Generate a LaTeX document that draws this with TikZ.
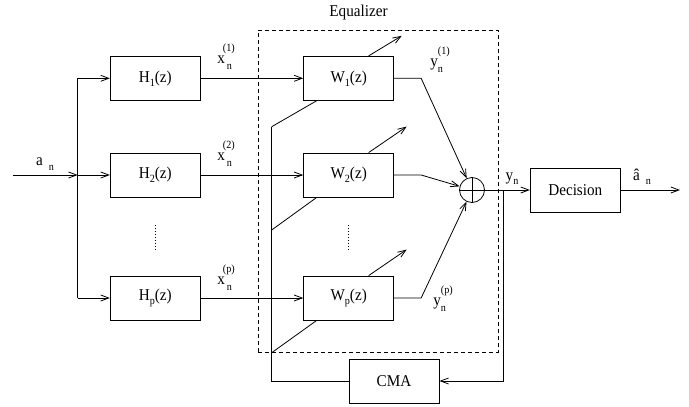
\documentclass[tikz,border=0pt]{standalone}
\usepackage{fontspec}
\setmainfont{Liberation Serif}[FakeStretch=0.92]
\usetikzlibrary{arrows.meta,calc}
\newcommand{\mainf}{\fontsize{16.5}{18}\selectfont}
\newcommand{\sml}{\fontsize{11}{11}\selectfont}
% main letter, subscript, superscript, subscript shift, superscript shift
\newcommand{\mysig}[5]{#1\makebox[0pt][l]{\hspace{#4}\raisebox{-6pt}{\sml #2}}\hspace{#5}\raisebox{12pt}{\sml #3}}
\newcommand{\fsub}[2]{#1\raisebox{-4pt}{\sml #2}(z)}
\begin{document}
\begin{tikzpicture}[x=1pt,y=-1pt,line width=0.8pt,
  box/.style={draw,line width=0.9pt,minimum width=90pt,minimum height=44pt,inner sep=0pt,font=\mainf},
  arr/.style={-{Straight Barb[length=8pt,width=6pt]}},
  lbl/.style={inner sep=0pt,font=\mainf},
  dots/.style={dash pattern=on 1pt off 2pt,line width=0.9pt}]
\useasboundingbox (0,0) rectangle (689,407);
% equalizer frame
\node[draw,dash pattern=on 4pt off 3pt,line width=0.7pt,minimum width=239.7pt,minimum height=322.7pt,inner sep=0pt] (eq) at (378.15,191.35) {};
\node[lbl] (eqlbl) at (358.5,13) {Equalizer};
% boxes
\node[box] (H1) at (155.3,78.3) {\fsub{H}{1}};
\node[box] (H2) at (155.3,175) {\fsub{H}{2}};
\node[box] (Hp) at (155.3,298) {\fsub{H}{p}};
\node[box] (W1) at (348.7,78.3) {\fsub{W}{1}};
\node[box] (W2) at (348.7,175) {\fsub{W}{2}};
\node[box] (Wp) at (348.7,298) {\fsub{W}{p}};
\node[circle,draw,minimum size=25pt,inner sep=0pt] (sum) at (472,190) {};
\node[box] (dec) at (575.3,190) {Decision};
\node[box] (cma) at (394,381) {CMA};
% coordinates
\coordinate (in) at (13,175);
\coordinate (sp) at (77.7,175);
\coordinate (spt) at (77.7,78.3);
\coordinate (spb) at (77.7,298);
\coordinate (c1) at (271.7,126.7);
\coordinate (c2) at (271.7,230);
\coordinate (cp) at (271.7,352.7);
\coordinate (cb) at (271.7,381);
\coordinate (fb) at (503.3,190);
\coordinate (fbb) at (503.3,381);
\coordinate (out) at (680,190);
% input distribution
\draw[arr] (in) -- (sp);
\draw (spt) -- (spb);
\draw[arr] (spt) -- (H1.west);
\draw[arr] (sp) -- (H2.west);
\draw[arr] (spb) -- (Hp.west);
% channels to equalizer
\draw[arr] (H1.east) -- (W1.west);
\draw[arr] (H2.east) -- (W2.west);
\draw[arr] (Hp.east) -- (Wp.west);
% adaptation arrows
\draw[arr] ($(W1.north)+(20,0)$) -- ++(33,-20);
\draw[arr] ($(W2.north)+(20,0)$) -- ++(38,-26);
\draw[arr] ($(Wp.north)+(20,0)$) -- ++(38,-26);
% adaptation lines
\draw (c1) -- ($(W1.south west)+(13.4,0)$);
\draw (c2) -- ($(W2.south west)+(13.4,0)$);
\draw (cp) -- ($(Wp.south west)+(13.4,0)$);
\draw (cma.west) -- (cb) -- (c1);
% outputs to sum
\draw[arr] (W1.east) -- ++(27,0) -- (sum);
\draw[arr] (W2.east) -- ++(27,0) -- (sum);
\draw[arr] (Wp.east) -- ++(27,0) -- (sum);
\draw (sum.north) -- (sum.south) (sum.west) -- (sum.east);
\draw[arr] (sum.east) -- (dec.west);
\draw[arr] (dec.east) -- (out);
\draw[arr] (fb) -- (fbb) -- (cma.east);
% dots
\draw[dots] (155.3,225) -- (155.3,252);
\draw[dots] (348.7,225) -- (348.7,252);
% labels
\node[lbl] (la) at (45,164) {a\hspace{6pt}\raisebox{-5pt}{\sml n}};
\node[lbl] (lx1) at (226,57) {\mysig{x}{n}{(1)}{2pt}{-2pt}};
\node[lbl] (lx2) at (226,154) {\mysig{x}{n}{(2)}{2pt}{-2pt}};
\node[lbl] (lxp) at (226,278) {\mysig{x}{n}{(p)}{2pt}{-2pt}};
\node[lbl] (ly1) at (440,60) {\mysig{y}{n}{(1)}{0pt}{0pt}};
\node[lbl] (lyp) at (443,299) {\mysig{y}{n}{(p)}{0pt}{0pt}};
\node[lbl] (ly) at (512,179) {y\raisebox{-4pt}{\sml n}};
\node[lbl] (lah) at (642,177) {â\hspace{6pt}\raisebox{-4pt}{\sml n}};
\end{tikzpicture}
\end{document}
